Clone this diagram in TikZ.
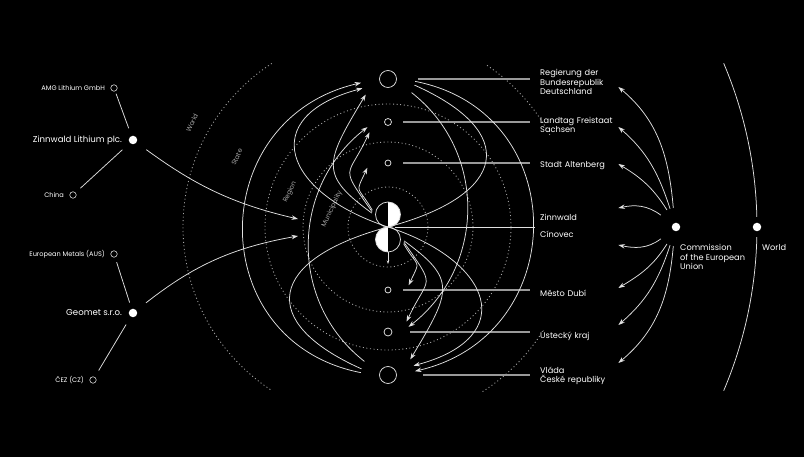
\documentclass[tikz,border=0pt]{standalone}
\usepackage{fontspec}
\setmainfont{Poppins}
\usetikzlibrary{arrows.meta}

\tikzset{
  flow/.style={draw=white!88!black, line width=0.75pt},
  arr/.style={flow, -{Stealth[length=6.5pt,width=4.5pt]}},
  orbit/.style={draw=white!65!black, line width=0.85pt, dash pattern=on 1pt off 2.6pt},
  tie/.style={draw=white!60!black, line width=1.2pt},
  hub/.style={circle, draw=white!88!black, fill=black, line width=0.75pt, inner sep=0pt, minimum size=#1},
  halo/.style={circle, inner sep=0pt, minimum size=#1},
  halfright/.style={path picture={\fill[white] (path picture bounding box.north) rectangle (path picture bounding box.south east);}},
  halfleft/.style={path picture={\fill[white] (path picture bounding box.north) rectangle (path picture bounding box.south west);}},
  actor/.style={circle, fill=white, inner sep=0pt, minimum size=8.5pt},
  minor/.style={circle, draw=white!85!black, line width=0.6pt, inner sep=0pt, minimum size=6.5pt},
  bigname/.style={text=white, font=\fontsize{8.6}{10}\selectfont, label distance=3pt},
  smallname/.style={text=white, font=\fontsize{6.6}{7.5}\selectfont, label distance=2pt},
  place/.style={anchor=west, text=white, font=\fontsize{8.2}{9.6}\selectfont, align=left, text width=76pt, inner sep=2pt},
  band/.style={text=white!65!black, font=\fontsize{6.6}{7}\selectfont, rotate=65},
}

\begin{document}
\begin{tikzpicture}[x=1pt, y=1pt]
\useasboundingbox[fill=black] (-388,-230) rectangle (416,227);

% levels
\foreach \rad in {40,85,123}
  \draw[orbit] (0,0) circle[radius=\rad];
\draw[orbit] (-10,0) ++(123:195) arc[start angle=123, end angle=237, radius=195];
\draw[orbit] (-10,0) ++(56:195) arc[start angle=56, end angle=28, radius=195];
\draw[orbit] (-10,0) ++(-34:195) arc[start angle=-34, end angle=-58, radius=195];
\node[band] (b-world) at (-196,104) {World};
\node[band] (b-state) at (-151,70) {State};
\node[band] (b-region) at (-98,35) {Region};
\node[band] (b-muni) at (-56,18) {Municipality};

% places on the axis
\coordinate (mid) at (0,0);
\node[hub=17pt] (reg) at (0,148) {};
\node[hub=7pt] (land) at (0,105) {};
\node[hub=6pt] (stadt) at (0,64) {};
\node[hub=25pt, halfright] (zinn) at (0,12.5) {};
\node[hub=25pt, halfleft] (cino) at (0,-12.5) {};
\node[hub=6pt] (dubi) at (0,-63) {};
\node[hub=8pt] (ust) at (0,-105) {};
\node[hub=17pt] (vlada) at (0,-148) {};
\node[halo=54pt] (reg-h) at (reg) {};
\node[halo=42pt] (land-h) at (land) {};
\node[halo=42pt] (stadt-h) at (stadt) {};
\node[halo=32pt] (zinn-h) at (zinn) {};
\node[halo=32pt] (cino-h) at (cino) {};
\node[halo=42pt] (dubi-h) at (dubi) {};
\node[halo=42pt] (ust-h) at (ust) {};
\node[halo=54pt] (vlada-h) at (vlada) {};

% labels on the right
\node[place] (lreg) at (150,145) {Regierung der\\Bundesrepublik\\Deutschland};
\node[place] (lland) at (150,102) {Landtag Freistaat\\Sachsen};
\node[place] (lstadt) at (150,61) {Stadt Altenberg};
\node[place] (lzinn) at (150,10) {Zinnwald};
\node[place] (lcino) at (150,-7) {Cínovec};
\node[place] (ldubi) at (150,-66) {Město Dubí};
\node[place] (lust) at (150,-109) {Ústecký kraj};
\node[place] (lvlada) at (150,-149) {Vláda\\České republiky};

\draw[tie] ([xshift=21pt]reg.east) -- ([xshift=-8pt]lreg.west |- reg);
\draw[tie] ([xshift=11pt]land.east) -- ([xshift=-8pt]lreg.west |- land);
\draw[tie] ([xshift=12pt]stadt.east) -- ([xshift=-8pt]lreg.west |- stadt);
\draw[flow] ([xshift=7pt]mid) -- ([xshift=-3pt]lzinn.west |- mid);
\draw[tie] ([xshift=12pt]dubi.east) -- ([xshift=-8pt]lreg.west |- dubi);
\draw[tie] ([xshift=18pt]ust.east) -- ([xshift=-8pt]lreg.west |- ust);
\draw[tie] ([xshift=26pt]vlada.east) -- ([xshift=-8pt]lreg.west |- vlada);

% Zinnwald side
\draw[arr] (vlada-h.175) .. controls +(169:161) and +(193:161) .. (reg-h.188);
\draw[flow] (mid) .. controls +(195:125) and +(156:115) .. (vlada-h.167);
\draw[arr] (vlada-h.150) .. controls +(142:97) and +(218:97) .. (land-h.194);
\draw[arr] (mid) .. controls +(162:110) and +(195:110) .. (reg-h.200);
\draw[arr] (zinn-h.175) .. controls +(144:65) and +(239:80) .. (reg-h.215);
\draw[arr] (zinn-h.170) .. controls +(125:58) and +(245:52) .. (land-h.209);
\draw[arr] (zinn-h.165) .. controls +(120:30) and +(245:30) .. (stadt-h.193);
% Cinovec side
\draw[arr] (reg-h.355) .. controls +(349:161) and +(13:161) .. (vlada-h.8);
\draw[flow] (mid) .. controls +(15:125) and +(336:115) .. (reg-h.347);
\draw[arr] (reg-h.330) .. controls +(322:97) and +(38:97) .. (ust-h.14);
\draw[arr] (mid) .. controls +(342:110) and +(15:110) .. (vlada-h.20);
\draw[arr] (cino-h.355) .. controls +(324:65) and +(59:80) .. (vlada-h.35);
\draw[arr] (cino-h.350) .. controls +(305:58) and +(65:52) .. (ust-h.29);
\draw[arr] (cino-h.345) .. controls +(300:30) and +(65:30) .. (dubi-h.13);
\coordinate (cino-out) at (0,-37);
\draw[flow, -{Stealth[length=3.5pt,width=2.5pt]}] (cino) -- (cino-out);

% companies
\node[actor, label={[bigname]left:Zinnwald Lithium plc.}] (zlp) at (-255,87) {};
\node[minor, label={[smallname]left:AMG Lithium GmbH}] (amg) at (-274,139) {};
\node[minor, label={[smallname]left:China}] (china) at (-315,32) {};
\node[actor, label={[bigname]left:Geomet s.r.o.}] (geomet) at (-255,-86) {};
\node[minor, label={[smallname]left:European Metals (AUS)}] (eum) at (-274,-27) {};
\node[minor, label={[smallname]left:ČEZ (CZ)}] (cez) at (-295,-153) {};
\draw[flow, shorten <=8pt, shorten >=2.5pt] (zlp) -- (amg);
\draw[flow, shorten <=10pt, shorten >=6.5pt] (zlp) -- (china);
\draw[flow, shorten <=6.5pt, shorten >=5pt] (geomet) -- (eum);
\draw[flow, shorten <=9pt, shorten >=7.5pt] (geomet) -- (cez);
\coordinate (zlp-in) at (-90,8);
\coordinate (geo-in) at (-90,-9);
\draw[arr, shorten <=12pt] (zlp) to[out=-36, in=167] (zlp-in);
\draw[arr, shorten <=12pt] (geomet) to[out=38, in=190] (geo-in);

% EU and world
\node[actor] (comm) at (288,0) {};
\node[halo=38pt] (comm-h) at (comm) {};
\node[anchor=north west, inner sep=0pt, text=white, align=left, font=\fontsize{8.2}{9.6}\selectfont] (comm-t) at (292,-17) {Commission\\of the European\\Union};
\node[actor] (world) at (369,0) {};
\node[anchor=west, inner sep=0pt, text=white, font=\fontsize{8.2}{9.6}\selectfont] (world-t) at (374,-21) {World};
\draw[flow] (-50,0) ++(23:419) arc[start angle=23, end angle=1.4, radius=419];
\draw[flow] (-50,0) ++(-1.4:419) arc[start angle=-1.4, end angle=-23, radius=419];

\draw[arr] (comm-h.98) to[out=95, in=-40] ([yshift=-5pt]lreg.east);
\draw[arr] (comm-h.108) to[out=108, in=-41] ([yshift=-2pt]lland.east);
\draw[arr] (comm-h.118) to[out=122, in=-31] ([yshift=2pt]lstadt.east);
\draw[arr] (comm-h.142) to[out=143, in=12] ([yshift=9pt]lzinn.east);
\draw[arr] (comm-h.218) to[out=217, in=-12] ([yshift=-11pt]lcino.east);
\draw[arr] (comm-h.242) to[out=238, in=31] ([yshift=5pt]ldubi.east);
\draw[arr] (comm-h.252) to[out=252, in=41] ([yshift=11pt]lust.east);
\draw[arr] (comm-h.262) to[out=265, in=40] ([yshift=13pt]lvlada.east);

\end{tikzpicture}
\end{document}
